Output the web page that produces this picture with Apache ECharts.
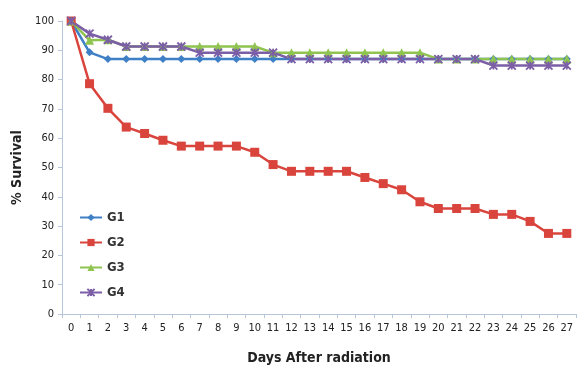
<!DOCTYPE html>
<html><head><meta charset="utf-8">
<script src="https://cdn.jsdelivr.net/npm/echarts@6/dist/echarts.min.js"></script>
<style>html,body{margin:0;padding:0;background:#fff}#c{width:587px;height:373px}</style>
</head><body><div id="c"></div>
<script>
const days = ['0','1','2','3','4','5','6','7','8','9','10','11','12','13','14','15','16','17','18','19','20','21','22','23','24','25','26','27'];
const seriesNames = ['G1','G2','G3','G4'];
const g1 = [100,89.3,87,87,87,87,87,87,87,87,87,87,87,87,87,87,87,87,87,87,87,87,87,87,87,87,87,87];
const g2 = [100,78.6,70.2,63.8,61.6,59.3,57.3,57.3,57.3,57.3,55.2,51,48.7,48.7,48.7,48.7,46.6,44.5,42.4,38.3,36,36,36,34,34,31.6,27.5,27.5];
const g3 = [100,93.4,93.6,91.3,91.3,91.3,91.3,91.3,91.3,91.3,91.3,89.2,89.2,89.2,89.2,89.2,89.2,89.2,89.2,89.2,87,87,87,87,87,87,87,87];
const g4 = [100,95.7,93.6,91.3,91.3,91.3,91.3,89.2,89.2,89.2,89.2,89.2,87,87,87,87,87,87,87,87,87,87,87,84.8,84.8,84.8,84.8,84.8];
const yTicks = {min:0, max:100, interval:10};

const colors = ['#3f7fc6','#d9443d','#8fc450','#7b5ea6'];
const xPath = 'path://M0,0 L10,10 M10,0 L0,10 M5,0 L5,10';
const font = "'Liberation Sans Narrow','DejaVu Sans Condensed','Liberation Sans',sans-serif";
const axisCol = '#b6c6d8';

function mk(name, data, color, symbol, size){
  return {name, type:'line', data, symbol, symbolSize:size, showSymbol:true,
    lineStyle:{color, width:2.5}, itemStyle:{color, borderColor:color, borderWidth: symbol===xPath?1.8:0},
    animation:false};
}
const chart = echarts.init(document.getElementById('c'), null, {renderer:'canvas'});
chart.setOption({
  backgroundColor:'#fff',
  animation:false,
  grid:{left:62, right:11, top:21, bottom:59},
  legend:{orient:'vertical', left:74, top:206, itemGap:12, itemWidth:22, itemHeight:9,
    data:seriesNames,
    textStyle:{fontFamily:font, fontSize:13, fontWeight:'bold', color:'#333'}},
  xAxis:{type:'category', data:days, boundaryGap:true,
    name:'Days After radiation', nameLocation:'middle', nameGap:37,
    nameTextStyle:{fontFamily:font, fontSize:14, fontWeight:'bold', color:'#222'},
    axisLine:{lineStyle:{color:axisCol, width:1}},
    axisTick:{show:true, length:4, alignWithLabel:false, lineStyle:{color:axisCol}},
    axisLabel:{fontFamily:font, fontSize:11, color:'#222', margin:9, interval:0}},
  yAxis:{type:'value', min:yTicks.min, max:yTicks.max, interval:yTicks.interval,
    name:'% Survival', nameLocation:'middle', nameGap:33, nameRotate:90,
    nameTextStyle:{fontFamily:font, fontSize:14, fontWeight:'bold', color:'#222'},
    axisLine:{show:true, lineStyle:{color:axisCol, width:1}},
    axisTick:{show:true, length:4, lineStyle:{color:axisCol}},
    splitLine:{show:false},
    axisLabel:{fontFamily:font, fontSize:11, color:'#222', margin:8}},
  series:[
    mk('G1', g1, colors[0], 'diamond', 8),
    mk('G2', g2, colors[1], 'rect', 9),
    mk('G3', g3, colors[2], 'triangle', 9),
    mk('G4', g4, colors[3], xPath, 8)
  ]
});
</script></body></html>
